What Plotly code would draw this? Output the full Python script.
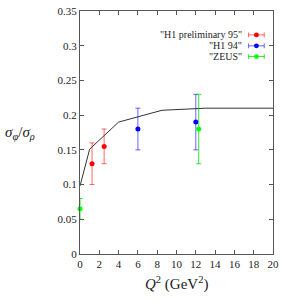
import plotly.graph_objects as go

# theory curve
curve_q2 = [0, 1, 4, 6, 8.5, 13, 20]
curve_r = [0.098, 0.151, 0.19, 0.198, 0.207, 0.21, 0.21]

# H1 preliminary 95
h195_q2 = [1.25, 2.5]
h195_r = [0.13, 0.155]
h195_err = [0.03, 0.025]

# H1 94
h194_q2 = [6.0, 12.0]
h194_r = [0.18, 0.19]
h194_err = [0.03, 0.04]

# ZEUS
zeus_q2 = [0.0, 12.3]
zeus_r = [0.065, 0.18]
zeus_err = [0.015, 0.05]

names = ['"H1 preliminary 95"', '"H1 94"', '"ZEUS"']
colors = ["#ff0000", "#0000ff", "#00ff00"]
bar_colors = ["rgba(255,0,0,0.6)", "rgba(0,0,255,0.6)", "rgba(0,220,0,0.8)"]

x_ticks = list(range(0, 21, 2))
y_ticks = [0, 0.05, 0.1, 0.15, 0.2, 0.25, 0.3, 0.35]
y_labels = ["0", "0.05", "0.1", "0.15", "0.2", "0.25", "0.3", "0.35"]

FONT = "Liberation Serif"

fig = go.Figure()
fig.add_trace(go.Scatter(x=curve_q2, y=curve_r, mode="lines",
                         line=dict(color="#333333", width=1), showlegend=False))
for (qx, ry, er), col, bcol in zip([(h195_q2, h195_r, h195_err),
                                     (h194_q2, h194_r, h194_err),
                                     (zeus_q2, zeus_r, zeus_err)], colors, bar_colors):
    fig.add_trace(go.Scatter(x=qx, y=ry, mode="markers",
                             marker=dict(color=col, size=5),
                             error_y=dict(type="data", array=er, color=bcol,
                                          thickness=1, width=2.5),
                             cliponaxis=False, showlegend=False))

# manual legend (text left, sample right, gnuplot style)
W, H = 198.0, 249.0
leg_y_px = [29.5, 40.7, 51.7]
for name, col, bcol, yp in zip(names, colors, bar_colors, leg_y_px):
    yp_paper = 1 - (yp - 5) / H
    fig.add_annotation(x=(248 - 80) / W, y=yp_paper, xref="paper", yref="paper",
                       text=name, showarrow=False, xanchor="right", yanchor="middle",
                       font=dict(family=FONT, size=10, color="#222"))
    x0, x1 = (253 - 80) / W, (269 - 80) / W
    fig.add_shape(type="line", xref="paper", yref="paper", x0=x0, x1=x1,
                  y0=yp_paper, y1=yp_paper, line=dict(color=bcol, width=1))
    for xx in (x0, x1):
        fig.add_shape(type="line", xref="paper", yref="paper", x0=xx, x1=xx,
                      y0=yp_paper - 2.5 / H, y1=yp_paper + 2.5 / H,
                      line=dict(color=bcol, width=1))
    xc = (x0 + x1) / 2
    fig.add_shape(type="circle", xref="paper", yref="paper",
                  x0=xc - 2.5 / W, x1=xc + 2.5 / W,
                  y0=yp_paper - 2.5 / H, y1=yp_paper + 2.5 / H,
                  fillcolor=col, line=dict(color=col, width=0))

# axis titles
fig.add_annotation(x=(1 - 80) / W, y=0.5, xref="paper", yref="paper",
                   text="<i>σ</i><sub><i>φ</i></sub>/<i>σ</i><sub><i>ρ</i></sub>",
                   showarrow=False, xanchor="left", yanchor="middle",
                   font=dict(family=FONT, size=15, color="#222"))
fig.add_annotation(x=0.5, y=-(284 - 254) / H, xref="paper", yref="paper",
                   text="<i>Q</i><sup>2</sup> (GeV<sup>2</sup>)",
                   showarrow=False, xanchor="center", yanchor="middle",
                   font=dict(family=FONT, size=15, color="#222"))

axis_common = dict(showgrid=False, zeroline=False, showline=True, linecolor="#555",
                   linewidth=1, mirror="ticks", ticks="inside", ticklen=4,
                   tickcolor="#555", ticklabeloverflow="allow",
                   tickfont=dict(family=FONT, size=11, color="#222"))
fig.update_xaxes(range=[0, 20], tickvals=x_ticks, **axis_common)
fig.update_yaxes(range=[0, 0.35], tickvals=y_ticks, ticktext=y_labels, **axis_common)

fig.update_layout(width=284, height=305, margin=dict(l=80, r=6, t=5, b=51),
                  plot_bgcolor="white", paper_bgcolor="white")
fig.write_html("out.html", config={"displayModeBar": False},
               post_script="document.body.style.margin='0';document.body.style.overflow='hidden';")
